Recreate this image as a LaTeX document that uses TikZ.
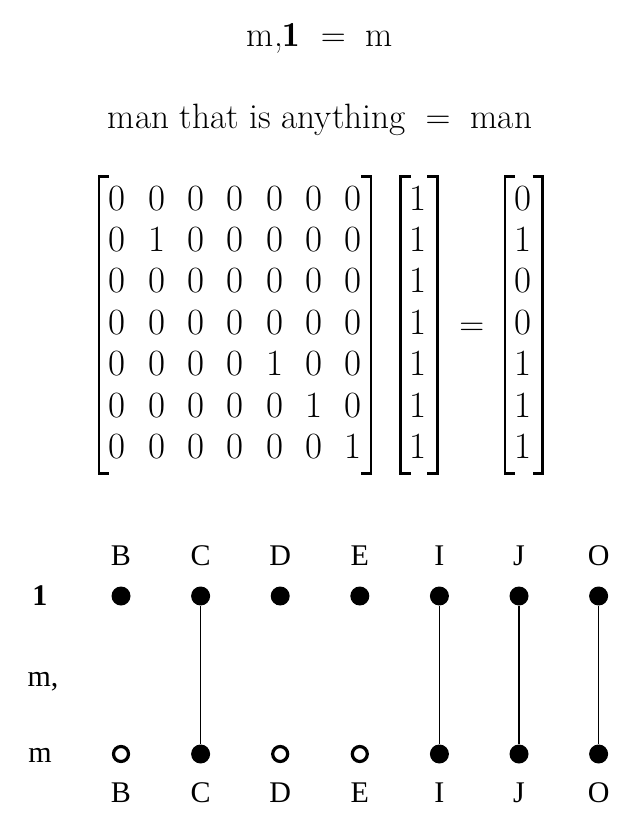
\documentclass[tikz,border=0pt]{standalone}
\usepackage{amsmath}
\usepackage{fontspec}
\newfontfamily\timesfont{Liberation Serif}

\begin{document}
\begin{tikzpicture}[x=0.5pt, y=-0.5pt,
    entry/.style={font=\fontsize{18.5}{22}\selectfont, anchor=base, inner sep=0pt},
    sentence/.style={font=\fontsize{17.6}{21}\selectfont, anchor=base, inner sep=0pt},
    dot/.style={circle, fill=black, inner sep=0pt, minimum size=9.5pt},
    hollow/.style={circle, draw=black, line width=1.6pt, inner sep=0pt, minimum size=7.5pt},
    lbl/.style={font=\timesfont\fontsize{15}{18}\selectfont, anchor=base, inner sep=0pt},
    link/.style={line width=0.8pt},
    brack/.style={line width=1.3pt}]
   \def\colsep{39.3}
   \def\rowsep{41.4}
   \def\serif{10}
   \def\colsp{79.6}
   \useasboundingbox (0,0) rectangle (639,833);
   \node[sentence] (eqsym) at (320,46.7) {$\text{m,}\mathbf{1}\ =\ \text{m}$};
   \node[sentence] (eqword) at (320,128.3) {$\text{man that is anything}\ =\ \text{man}$};
   \foreach \r/\row in {1/{0,0,0,0,0,0,0}, 2/{0,1,0,0,0,0,0}, 3/{0,0,0,0,0,0,0},
                        4/{0,0,0,0,0,0,0}, 5/{0,0,0,0,1,0,0}, 6/{0,0,0,0,0,1,0},
                        7/{0,0,0,0,0,0,1}} {
       \foreach \v [count=\c] in \row
           \node[entry] (m-\r-\c) at ({117.3+\colsep*(\c-1)},{210.2+\rowsep*(\r-1)}) {\v};
       \node[entry] (v-\r) at (418.3,{210.2+\rowsep*(\r-1)}) {1};
   }
   \foreach \r/\v in {1/0,2/1,3/0,4/0,5/1,6/1,7/1}
       \node[entry] (w-\r) at (523.3,{210.2+\rowsep*(\r-1)}) {\v};
   \node[entry] (eq) at (471.7,335.2) {$=$};
   \foreach \lx/\rx in {99/371, 400.7/437.3, 505/542.7} {
       \draw[brack] (\lx+\serif,176.7) -- (\lx,176.7) -- (\lx,473.3) -- (\lx+\serif,473.3);
       \draw[brack] (\rx-\serif,176.7) -- (\rx,176.7) -- (\rx,473.3) -- (\rx-\serif,473.3);
   }
   \node[lbl] (row-one) at (40,605) {\textbf{1}};
   \node[lbl] (row-rel) at (43,686.7) {m,};
   \node[lbl] (row-m) at (40,762.3) {m};
   \foreach \n [count=\k] in {B,C,D,E,I,J,O} {
       \node[lbl] (top-\n) at ({121+\colsp*(\k-1)},565) {\n};
       \node[dot] (up-\n) at ({121+\colsp*(\k-1)},596) {};
       \node[lbl] (bot-\n) at ({121+\colsp*(\k-1)},802.7) {\n};
   }
   \foreach \n/\k in {B/1,D/3,E/4}
       \node[hollow] (dn-\n) at ({121+\colsp*(\k-1)},754) {};
   \foreach \n/\k in {C/2,I/5,J/6,O/7} {
       \node[dot] (dn-\n) at ({121+\colsp*(\k-1)},754) {};
       \draw[link] (up-\n) -- (dn-\n);
   }
\end{tikzpicture}
\end{document}
